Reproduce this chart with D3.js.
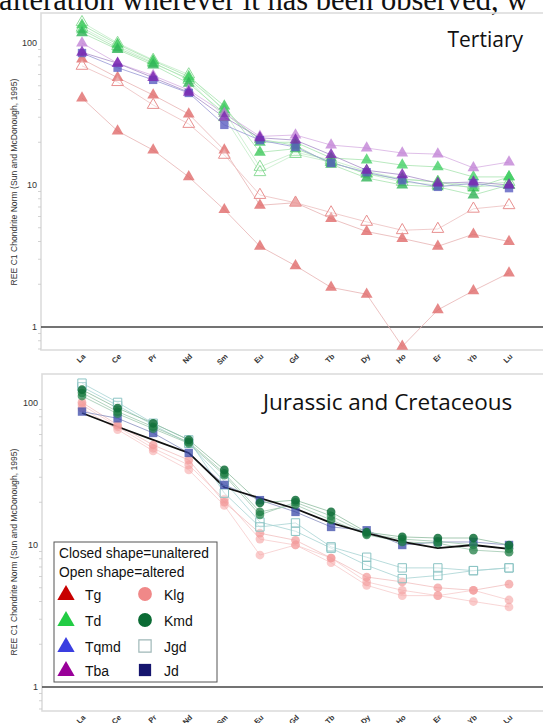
<!DOCTYPE html>
<html><head><meta charset="utf-8">
<script src="https://cdn.jsdelivr.net/npm/d3@7/dist/d3.min.js"></script>
<style>body{margin:0;background:#fff;} svg{display:block;}</style>
</head><body>
<svg id="c" width="543" height="723"></svg>
<script>
const elements = ["La","Ce","Pr","Nd","Sm","Eu","Gd","Tb","Dy","Ho","Er","Yb","Lu"];
const yTicks = [1, 10, 100];

// Tertiary panel series
const tg1 = [41, 24, 17.6, 11.4, 6.7, 3.7, 2.7, 1.9, 1.7, 0.73, 1.32, 1.8, 2.4];
const tg2 = [77, 57, 43, 31.6, 17.6, 7.2, 7.5, 5.8, 4.7, 4.2, 3.7, 4.5, 4.0];
const tg3open = [69, 53, 36.6, 26.9, 16.3, 8.5, 7.5, 6.4, 5.5, 4.8, 4.9, 6.8, 7.2];
const td1 = [134, 98, 75, 58, 36, 17, 18, 14.5, 12, 11, 10.5, 9.5, 11.4];
const td2 = [124, 92, 72, 56, 34, 20, 20, 15.5, 15, 13.8, 13.4, 11.4, 11.4];
const td3 = [118, 90, 70, 52, 32, 21, 19, 14, 11.2, 10, 9.7, 8.5, 10];
const td4open = [140, 100, 76, 60, 33, 13.4, 17, 15, 12.5, 11, 10.5, 10, 10.5];
const td5open = [128, 95, 73, 55, 30, 12.3, 16.5, 14.5, 12, 10.5, 10, 9.7, 10];
const tba1 = [100, 72, 59, 46.6, 32, 22, 22.5, 19.1, 18.2, 16.8, 16.5, 13.2, 14.5];
const tba2 = [86, 72, 57, 45, 30, 21.5, 20.7, 16.3, 12.7, 11.8, 10.3, 10.5, 10];
const tqmd1 = [85, 67, 55, 44.5, 26.5, 20.7, 18.5, 14.3, 12.3, 10.8, 9.7, 10.3, 9.5];

// Jurassic and Cretaceous panel series
const klg1 = [101, 70, 50.6, 39.7, 20, 12.1, 10.8, 8.1, 5.95, 5.5, 5.0, 4.8, 5.3];
const klg2 = [97, 68, 48, 36.6, 21, 11, 10, 8.1, 5.5, 4.8, 4.4, 4.8, 4.1];
const klg3 = [92, 65, 46, 33.8, 19, 8.5, 10, 7.5, 5.2, 4.4, 4.4, 4.0, 3.66];
const kmd1 = [124, 92, 72, 55, 33.8, 19.8, 20.7, 17.1, 12.3, 11.4, 11.2, 11.2, 10];
const kmd2 = [118, 87, 68, 53, 32, 17.1, 19.2, 15, 11.8, 10.5, 10.3, 9.2, 8.9];
const kmd3 = [112, 84, 66, 52, 31, 16.3, 20, 16, 12, 11, 10.6, 10, 9.4];
const jgd1 = [138, 101, 72, 55, 23.2, 13.4, 14.3, 9.7, 8.2, 6.9, 6.9, 6.6, 6.9];
const jgd2 = [130, 96, 70, 52, 28, 14.5, 12.5, 9.5, 7.2, 5.8, 6.1, 6.6, 6.9];
const jd1 = [87, 78, 61.5, 44.5, 26.5, 20.7, 17.1, 13.4, 12.7, 10, 10.5, 10.5, 10];
const avgLine = [85, 68, 55, 44.5, 25.5, 21.4, 18, 14.3, 12.1, 10.5, 9.5, 10, 9.4];

const legendRows = [
  ["Tg","triangle","#c80000",true],["Td","triangle","#22cc44",true],
  ["Tqmd","triangle","#3a3ee0",true],["Tba","triangle","#990099",true],
  ["Klg","circle","#f08888",true],["Kmd","circle","#0b6b34",true],
  ["Jgd","square","#9fb8b8",false],["Jd","square","#15156e",true]
];

const svg = d3.select("#c");

// clipped caption text at top
svg.append("text").attr("x",-1).attr("y",10).attr("font-family","Liberation Serif, Times New Roman, serif")
  .attr("font-size",30.5).attr("fill","#111").text("alteration wherever it has been observed, w");

const x = d3.scalePoint().domain(elements).range([82, 509]);

function symbolPath(type, size){
  const t = type==="triangle"?d3.symbolTriangle:type==="circle"?d3.symbolCircle:d3.symbolSquare;
  return d3.symbol().type(t).size(size)();
}

function panel(cfg){
  const g = svg.append("g");
  const y = d3.scaleLog().domain([1,100]).range([cfg.y1, cfg.y100]);
  g.append("rect").attr("x",cfg.fx).attr("y",cfg.ft).attr("width",560).attr("height",cfg.fb-cfg.ft)
    .attr("fill","none").attr("stroke","#dcdcdc").attr("stroke-width",1.6);
  g.append("line").attr("x1",cfg.fx).attr("x2",560).attr("y1",y(1)).attr("y2",y(1))
    .attr("stroke","#444").attr("stroke-width",1.4);
  const minors = [];
  [1,10,100].forEach(d=>{for(let k=2;k<=9;k++){const v=d*k; if(y(v)>cfg.ft && y(v)<cfg.fb) minors.push(v);}});
  [0.7,0.8,0.9].forEach(v=>{ if(y(v)<cfg.fb) minors.push(v);});
  g.selectAll(".mt").data(minors).enter().append("line")
    .attr("x1",cfg.fx-3).attr("x2",cfg.fx).attr("y1",d=>y(d)).attr("y2",d=>y(d))
    .attr("stroke","#c8c8c8").attr("stroke-width",0.8);
  g.selectAll(".yt").data(yTicks).enter().append("text")
    .attr("x",cfg.fx-4).attr("y",d=>y(d)+3).attr("text-anchor","end")
    .attr("font-family","Liberation Sans, Arial, sans-serif").attr("font-size",9).attr("fill","#333")
    .text(d=>d);
  g.append("text").attr("transform",`translate(17,${cfg.titleY}) rotate(-90)`)
    .attr("text-anchor","middle").attr("font-family","Liberation Sans, Arial, sans-serif")
    .attr("font-size",8.6).attr("fill","#333")
    .text("REE C1 Chondrite Norm (Sun and McDonough, 1995)");
  g.selectAll(".xl").data(elements).enter().append("text")
    .attr("transform",d=>`translate(${x(d)+4},${cfg.xlY}) rotate(-45)`)
    .attr("text-anchor","end").attr("font-family","Liberation Sans, Arial, sans-serif")
    .attr("font-size",7.5).attr("font-weight","bold").attr("fill","#333").text(d=>d);
  g.append("text").attr("x",cfg.tx).attr("y",cfg.ty).attr("text-anchor",cfg.ta)
    .attr("font-family","Open Sans, Lato, sans-serif").attr("font-size",cfg.tsize).attr("fill","#111").text(cfg.title);
  const line = d3.line().x((d,i)=>x(elements[i])).y(d=>y(d));
  cfg.series.forEach(s=>{
    g.append("path").attr("d",line(s.v)).attr("fill","none").attr("stroke",s.line)
      .attr("stroke-width",s.lw||0.9).attr("opacity",s.lop||0.9);
  });
  cfg.series.forEach(s=>{
    if(!s.sym) return;
    g.selectAll(null).data(s.v).enter().append("path")
      .attr("d",symbolPath(s.sym,s.size||60))
      .attr("transform",(d,i)=>`translate(${x(elements[i])},${y(d)})`)
      .attr("fill",s.open?"#fff":s.color).attr("fill-opacity",s.open?0.3:(s.fo||0.8))
      .attr("stroke",s.open?s.color:"none").attr("stroke-width",1);
  });
}

panel({
  fx:41, ft:13, fb:350, y1:327, y100:43, titleY:182, xlY:357,
  title:"Tertiary", tx:523, ty:47, ta:"end", tsize:21,
  series:[
    {v:tg1, sym:"triangle", color:"#e06a6a", line:"#e8b4b4"},
    {v:tg2, sym:"triangle", color:"#e06a6a", line:"#e8b4b4"},
    {v:tg3open, sym:"triangle", color:"#e89090", line:"#ecc0c0", open:true},
    {v:td4open, sym:"triangle", color:"#8edc9a", line:"#c4ecc8", open:true},
    {v:td5open, sym:"triangle", color:"#8edc9a", line:"#c4ecc8", open:true},
    {v:td1, sym:"triangle", color:"#3cc85a", line:"#a8e4b0"},
    {v:td2, sym:"triangle", color:"#44d066", line:"#a8e4b0"},
    {v:td3, sym:"triangle", color:"#2fb356", line:"#a8e4b0"},
    {v:tba1, sym:"triangle", color:"#c283d6", line:"#d8b0e2"},
    {v:tqmd1, sym:"square", color:"#5a5cc0", line:"#9a9ad6", size:70},
    {v:tba2, sym:"triangle", color:"#7a24b0", line:"#a890c8"}
  ]
});

panel({
  fx:42, ft:374, fb:711, y1:687, y100:403, titleY:552, xlY:718,
  title:"Jurassic and Cretaceous", tx:263, ty:410, ta:"start", tsize:22.5,
  series:[
    {v:klg3, sym:"circle", color:"#f6a8a8", line:"#f6cccc", fo:0.6},
    {v:klg2, sym:"circle", color:"#f4a0a0", line:"#f6cccc", fo:0.6},
    {v:klg1, sym:"circle", color:"#f29898", line:"#f2c0c0", fo:0.7},
    {v:jgd2, sym:"square", color:"#8cc4c4", line:"#a8d4d4", open:true, size:70},
    {v:jgd1, sym:"square", color:"#8cc4c4", line:"#a8d4d4", open:true, size:70},
    {v:jd1, sym:"square", color:"#3a48a8", line:"#8890c0", size:70, fo:0.75},
    {v:kmd3, sym:"circle", color:"#2a8a50", line:"#a0c8b0", fo:0.75},
    {v:kmd2, sym:"circle", color:"#1f7e44", line:"#a0c8b0", fo:0.75},
    {v:kmd1, sym:"circle", color:"#0f6e38", line:"#90bca0", fo:0.85},
    {v:avgLine, line:"#111", lw:1.8, lop:1}
  ]
});

// legend
const lg = svg.append("g");
lg.append("rect").attr("x",54).attr("y",542).attr("width",163).attr("height",140)
  .attr("fill","#fff").attr("stroke","#555").attr("stroke-width",1);
lg.append("text").attr("x",59).attr("y",558).attr("font-family","Liberation Sans, Arial, sans-serif")
  .attr("font-size",13.8).attr("fill","#111").text("Closed shape=unaltered");
lg.append("text").attr("x",59).attr("y",577).attr("font-family","Liberation Sans, Arial, sans-serif")
  .attr("font-size",13.8).attr("fill","#111").text("Open shape=altered");
const rowY = [594, 620, 646, 670];
legendRows.forEach((r,i)=>{
  const col = Math.floor(i/4), row = i%4;
  const sx = col===0?66:145, tx = col===0?85:164;
  lg.append("path").attr("d",symbolPath(r[1], r[1]==="triangle"?130:150))
    .attr("transform",`translate(${sx},${rowY[row]+(r[1]==="triangle"?1:0)})`)
    .attr("fill",r[3]?r[2]:"#fff").attr("stroke",r[3]?"none":r[2]).attr("stroke-width",1.2);
  lg.append("text").attr("x",tx).attr("y",rowY[row]+5.5).attr("font-family","Liberation Sans, Arial, sans-serif")
    .attr("font-size",14).attr("fill","#111").text(r[0]);
});
</script>
</body></html>
